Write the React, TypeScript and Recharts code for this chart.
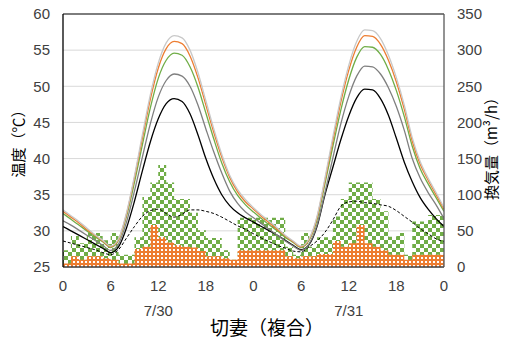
import React from 'react';
import { ComposedChart, Line, Area, XAxis, YAxis, CartesianGrid, ReferenceLine } from 'recharts';

// hourly values, 7/30 0:00 .. 8/1 0:00
const HOURS = Array.from({ length: 49 }, (_, i) => i);
const X_TICKS = [0, 6, 12, 18, 24, 30, 36, 42, 48];
const TEMP_TICKS = [25, 30, 35, 40, 45, 50, 55, 60];
const FLOW_TICKS = [0, 50, 100, 150, 200, 250, 300, 350];
const DATE_LABELS = ['7/30', '7/31'];

const TEMP_LIGHTGRAY = [
  32.9, 32.1, 31.3, 30.4, 29.5, 28.7, 27.9, 28.9, 32.5, 37.6, 43.3, 48.8, 53.2, 56.0, 57.0, 56.7, 55.0, 51.9, 48.0, 44.1, 40.6, 37.7, 35.7, 34.3,
  33.2, 32.2, 31.3, 30.4, 29.4, 28.6, 27.9, 28.9, 32.0, 37.3, 43.0, 48.4, 52.9, 56.2, 57.8, 57.7, 56.6, 54.3, 51.2, 47.4, 42.9, 39.6, 37.3, 35.3,
  33.2,
];
const TEMP_ORANGE = [
  32.7, 31.9, 31.1, 30.2, 29.4, 28.6, 27.8, 28.8, 32.3, 37.3, 42.8, 48.2, 52.5, 55.2, 56.2, 55.9, 54.2, 51.2, 47.4, 43.6, 40.2, 37.4, 35.4, 34.0,
  33.0, 32.0, 31.1, 30.2, 29.3, 28.5, 27.8, 28.8, 31.8, 37.0, 42.5, 47.8, 52.2, 55.4, 57.0, 56.9, 55.8, 53.6, 50.6, 46.8, 42.4, 39.2, 37.0, 35.0,
  33.0,
];
const TEMP_GREEN = [
  32.4, 31.6, 30.8, 30.0, 29.2, 28.5, 27.7, 28.7, 32.0, 36.7, 41.9, 47.0, 51.1, 53.6, 54.6, 54.3, 52.7, 49.9, 46.3, 42.7, 39.4, 36.8, 34.9, 33.6,
  32.6, 31.7, 30.8, 30.0, 29.1, 28.4, 27.7, 28.7, 31.5, 36.5, 41.7, 46.7, 50.9, 54.0, 55.5, 55.4, 54.4, 52.3, 49.4, 45.8, 41.7, 38.6, 36.5, 34.6,
  32.7,
];
const TEMP_GRAY = [
  31.4, 30.8, 30.1, 29.4, 28.7, 28.0, 27.3, 28.2, 31.2, 35.5, 40.2, 44.8, 48.5, 50.8, 51.7, 51.4, 50.0, 47.4, 44.1, 40.9, 38.0, 35.5, 33.8, 32.6,
  31.8, 31.0, 30.2, 29.4, 28.6, 27.9, 27.3, 28.2, 30.8, 35.3, 40.1, 44.8, 48.6, 51.4, 52.8, 52.7, 51.7, 49.8, 47.2, 43.9, 40.0, 37.3, 35.3, 33.6,
  31.7,
];
const TEMP_BLACK = [
  30.6, 30.0, 29.4, 28.8, 28.2, 27.6, 27.0, 27.8, 30.4, 34.1, 38.3, 42.3, 45.5, 47.6, 48.3, 47.9, 46.2, 43.3, 40.0, 37.2, 35.0, 33.5, 32.5, 31.8,
  31.2, 30.6, 30.0, 29.4, 28.7, 28.0, 27.4, 28.1, 30.6, 35.0, 38.8, 42.6, 45.9, 48.4, 49.6, 49.5, 48.3, 46.0, 42.8, 39.5, 36.8, 34.6, 33.0, 31.7,
  30.6,
];
const TEMP_OUTDOOR = [
  28.6, 28.3, 28.0, 27.7, 27.4, 27.0, 26.7, 27.4, 29.0, 30.6, 32.0, 32.8, 33.0, 32.4, 31.9, 32.3, 32.9, 32.9, 32.7, 32.4, 31.9, 31.3, 30.7, 30.2,
  29.6, 29.0, 28.5, 28.0, 27.6, 27.2, 27.1, 27.8, 28.6, 29.8, 31.5, 33.4, 34.0, 34.1, 33.9, 33.8, 33.6, 33.4, 32.8, 32.0, 31.2, 30.3, 29.6, 28.9,
  28.5,
];
const FLOW_TOTAL = [
  23, 43, 33, 47, 47, 37, 47, 17, 17, 41, 97, 117, 141, 117, 94, 94, 75, 51, 40, 40, 23, 10, 68, 68,
  68, 68, 68, 68, 28, 17, 47, 28, 41, 41, 70, 94, 117, 117, 117, 94, 77, 42, 47, 17, 63, 63, 72, 72,
  72,
];
const FLOW_PART = [
  5, 15, 10, 15, 15, 12, 10, 5, 5, 25, 28, 58, 41, 34, 30, 28, 27, 22, 15, 15, 12, 10, 23, 23,
  23, 23, 23, 23, 15, 12, 15, 15, 18, 18, 36, 28, 33, 58, 33, 28, 23, 17, 17, 10, 17, 17, 17, 17,
  17,
];

const rows = HOURS.map((h, i) => ({
  h,
  lg: TEMP_LIGHTGRAY[i],
  or: TEMP_ORANGE[i],
  gr: TEMP_GREEN[i],
  gy: TEMP_GRAY[i],
  bk: TEMP_BLACK[i],
  out: TEMP_OUTDOOR[i],
  total: FLOW_TOTAL[i],
  part: FLOW_PART[i],
}));

const W = 505;
const H = 342;
const PLOT_L = 63;
const PLOT_R = 444;
const tickFont = { fontFamily: '"Liberation Sans", Arial, sans-serif', fontSize: 15, fill: '#404040' };
const jpFont = '"Noto Sans CJK JP", "Noto Sans", sans-serif';

const hourX = (h: number) => PLOT_L + (h / 48) * (PLOT_R - PLOT_L);

export default function App() {
  return (
    <div style={{ position: 'absolute', left: 0, top: 0, width: W, height: H, background: '#fff' }}>
      <ComposedChart width={W} height={H} data={rows} margin={{ top: 14, right: 1, bottom: 45, left: 3 }}>
        <defs>
          <pattern id="chk" width="8" height="8" patternUnits="userSpaceOnUse">
            <rect width="8" height="8" fill="#fff" />
            <rect x="0" y="0" width="4" height="4" fill="#70AD47" />
            <rect x="4" y="4" width="4" height="4" fill="#70AD47" />
          </pattern>
          <pattern id="dots" width="4" height="4" patternUnits="userSpaceOnUse">
            <rect width="4" height="4" fill="#ED7D31" />
            <rect x="1" y="1" width="2" height="2" fill="#fff" />
          </pattern>
        </defs>
        <CartesianGrid yAxisId="t" vertical={false} stroke="#d9d9d9" />
        <XAxis
          type="number"
          dataKey="h"
          domain={[0, 48]}
          ticks={X_TICKS}
          tickFormatter={(v: number) => String(v % 24)}
          tickLine={false}
          tickSize={5}
          tickMargin={8}
          height={30}
          axisLine={{ stroke: '#404040', strokeWidth: 1.3 }}
          tick={tickFont}
          allowDataOverflow
        />
        <YAxis
          yAxisId="t"
          domain={[25, 60]}
          ticks={TEMP_TICKS}
          width={60}
          tickLine={false}
          tickSize={5}
          tickMargin={8}
          axisLine={{ stroke: '#000', strokeWidth: 1.3 }}
          tick={tickFont}
        />
        <YAxis
          yAxisId="v"
          orientation="right"
          domain={[0, 350]}
          ticks={FLOW_TICKS}
          width={60}
          tickLine={false}
          tickSize={5}
          tickMargin={8}
          axisLine={{ stroke: '#595959', strokeWidth: 1.3 }}
          tick={tickFont}
        />
        <ReferenceLine yAxisId="t" y={60} stroke="#595959" strokeWidth={1.3} />
        <Area yAxisId="v" type="stepAfter" dataKey="total" stroke="none" fill="url(#chk)" fillOpacity={1} dot={false} activeDot={false} isAnimationActive={false} />
        <Area yAxisId="v" type="stepAfter" dataKey="part" stroke="none" fill="url(#dots)" fillOpacity={1} dot={false} activeDot={false} isAnimationActive={false} />
        <Line yAxisId="t" type="monotone" dataKey="out" stroke="#000" strokeWidth={1} strokeDasharray="3 2" dot={false} isAnimationActive={false} />
        <Line yAxisId="t" type="monotone" dataKey="bk" stroke="#000" strokeWidth={1.3} dot={false} isAnimationActive={false} />
        <Line yAxisId="t" type="monotone" dataKey="gy" stroke="#7f7f7f" strokeWidth={1.3} dot={false} isAnimationActive={false} />
        <Line yAxisId="t" type="monotone" dataKey="gr" stroke="#70AD47" strokeWidth={1.3} dot={false} isAnimationActive={false} />
        <Line yAxisId="t" type="monotone" dataKey="or" stroke="#ED7D31" strokeWidth={1.3} dot={false} isAnimationActive={false} />
        <Line yAxisId="t" type="monotone" dataKey="lg" stroke="#c8c8c8" strokeWidth={1.3} dot={false} isAnimationActive={false} />
      </ComposedChart>

      {DATE_LABELS.map((d, i) => (
        <div
          key={d}
          style={{
            position: 'absolute',
            left: hourX(12 + 24 * i),
            top: 310,
            transform: 'translate(-50%, -50%)',
            fontFamily: tickFont.fontFamily,
            fontSize: 15,
            lineHeight: '17px',
            color: '#404040',
            whiteSpace: 'nowrap',
          }}
        >
          {d}
        </div>
      ))}
      <div
        style={{
          position: 'absolute',
          left: 267,
          top: 327,
          transform: 'translate(-50%, -50%)',
          fontFamily: jpFont,
          fontSize: 19,
          lineHeight: '20px',
          color: '#000',
          whiteSpace: 'nowrap',
        }}
      >
        切妻（複合）
      </div>
      <div
        style={{
          position: 'absolute',
          left: 18,
          top: 140,
          transform: 'translate(-50%, -50%) rotate(-90deg)',
          fontFamily: jpFont,
          fontSize: 15,
          lineHeight: '16px',
          color: '#000',
          whiteSpace: 'nowrap',
        }}
      >
        温度（℃）
      </div>
      <div
        style={{
          position: 'absolute',
          left: 491,
          top: 145,
          transform: 'translate(-50%, -50%) rotate(-90deg)',
          fontFamily: jpFont,
          fontSize: 15,
          lineHeight: '16px',
          color: '#000',
          whiteSpace: 'nowrap',
        }}
      >
        換気量（m³/h）
      </div>
    </div>
  );
}
